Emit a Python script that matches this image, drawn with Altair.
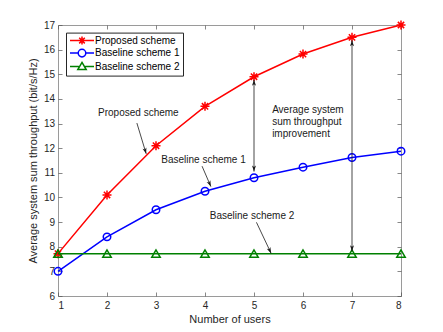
import altair as alt
import pandas as pd
import numpy as np

# ---- data ----
users = [1, 2, 3, 4, 5, 6, 7, 8]
proposed = [7.72, 10.1, 12.1, 13.7, 14.9, 15.82, 16.5, 17.0]
baseline1 = [7.0, 8.4, 9.5, 10.25, 10.8, 11.23, 11.62, 11.88]
baseline2 = [7.72, 7.72, 7.72, 7.72, 7.72, 7.72, 7.72, 7.72]
series_names = ["Proposed scheme", "Baseline scheme 1", "Baseline scheme 2"]
series_colors = ["#ff0000", "#0000ff", "#008000"]
x_ticks = [1, 2, 3, 4, 5, 6, 7, 8]
y_ticks = [6, 7, 8, 9, 10, 11, 12, 13, 14, 15, 16, 17]

# annotations
label_text = ["Proposed scheme", "Baseline scheme 1", "Baseline scheme 2"]
label_x = [2.64, 3.97, 4.96]
label_y = [13.42, 11.54, 9.24]
arrow_x = [2.61, 3.94, 5.05, 5.0, 7.0]
arrow_y = [13.02, 11.27, 8.99, 14.78, 16.38]
arrow_x2 = [2.80, 4.12, 5.35, 5.0, 7.0]
arrow_y2 = [11.77, 10.44, 7.73, 11.05, 7.82]
arrow_double = [False, False, False, True, True]
note_lines = ["Average system", "sum throughput", "improvement"]
note_x = [5.37, 5.37, 5.37]
note_y = [13.57, 13.06, 12.56]

W, H = 343, 271
XMIN, XMAX, YMIN, YMAX = 1, 8, 6, 17
FONT = "Liberation Sans"

ASTERISK = "M-1,0L1,0M0,-1L0,1M-0.7,-0.7L0.7,0.7M-0.7,0.7L0.7,-0.7"
ARROWHEAD = "M0,0L-0.4,1.2L0,0.9L0.4,1.2Z"
LEG_PATHS = [
    "M-3,0L3,0M-1,0L1,0M0,-1L0,1M-0.7,-0.7L0.7,0.7M-0.7,0.7L0.7,-0.7",
    "M-3,0L-0.95,0M0.95,0L3,0M-0.95,0A0.95,0.95 0 1,1 0.95,0A0.95,0.95 0 1,1 -0.95,0",
    "M-3,0L-0.8,0M0.8,0L3,0M0,-1.05L1.05,0.75L-1.05,0.75Z",
]

xs = alt.Scale(domain=[XMIN, XMAX], nice=False)
ys = alt.Scale(domain=[YMIN, YMAX], nice=False)

x_axis = alt.Axis(values=x_ticks, title="Number of users", offset=-4, tickSize=4,
                  labelPadding=4, titlePadding=3, format="d")
y_axis = alt.Axis(values=y_ticks, title="Average system sum throughput (bit/s/Hz)",
                  offset=-4, tickSize=4, labelPadding=3.5, titlePadding=5, format="d")

df = pd.DataFrame({
    "users": users * 3,
    "value": proposed + baseline1 + baseline2,
    "series": sum([[s] * len(users) for s in series_names], []),
})

layers = []
marker_shapes = [ASTERISK, "circle", "triangle-up"]
marker_sizes = [81, 56, 72]
for i, name in enumerate(series_names):
    sub = df[df["series"] == name]
    base = alt.Chart(sub)
    line = base.mark_line(color=series_colors[i], strokeWidth=1.5).encode(
        x=alt.X("users:Q", scale=xs, axis=x_axis),
        y=alt.Y("value:Q", scale=ys, axis=y_axis),
    )
    pts = base.mark_point(color=series_colors[i], filled=False, strokeWidth=1.5,
                          opacity=1, shape=marker_shapes[i], size=marker_sizes[i]).encode(
        x=alt.X("users:Q", scale=xs, axis=x_axis),
        y=alt.Y("value:Q", scale=ys, axis=y_axis),
    )
    layers += [line, pts]

# legend layer (no visible data, only provides legend entries)
leg_df = pd.DataFrame({"series": series_names})
legend = alt.Legend(title=None, orient="none", legendX=8, legendY=7.6,
                    padding=3, strokeColor="#262626", fillColor="white",
                    labelFont=FONT, labelFontSize=10, labelColor="#000000",
                    symbolSize=64, symbolStrokeWidth=1.5, labelOffset=8,
                    rowPadding=-1.5, symbolOffset=8)
leg_layer = alt.Chart(leg_df).transform_filter("false").mark_point(
    filled=False, opacity=1, strokeWidth=1.5).encode(
    shape=alt.Shape("series:N", scale=alt.Scale(domain=series_names, range=LEG_PATHS), legend=legend),
    color=alt.Color("series:N", scale=alt.Scale(domain=series_names, range=series_colors), legend=legend),
)
layers.append(leg_layer)

# arrows
arr_df = pd.DataFrame({"x": arrow_x, "y": arrow_y, "x2": arrow_x2, "y2": arrow_y2})
rules = alt.Chart(arr_df).mark_rule(color="#1a1a1a", strokeWidth=0.8).encode(
    x=alt.X("x:Q", scale=xs, axis=x_axis), y=alt.Y("y:Q", scale=ys, axis=y_axis),
    x2="x2:Q", y2="y2:Q")
layers.append(rules)

px_per_x = W / (XMAX - XMIN)
px_per_y = H / (YMAX - YMIN)
hx, hy, ha = [], [], []
for x0, y0, x1, y1, dbl in zip(arrow_x, arrow_y, arrow_x2, arrow_y2, arrow_double):
    dx = (x1 - x0) * px_per_x
    dy = -(y1 - y0) * px_per_y
    ang = np.degrees(np.arctan2(dx, -dy)) % 360
    hx.append(x1); hy.append(y1); ha.append(float(ang))
    if dbl:
        hx.append(x0); hy.append(y0); ha.append(float((ang + 180) % 360))
head_df = pd.DataFrame({"x": hx, "y": hy, "angle": ha})
heads = alt.Chart(head_df).mark_point(shape=ARROWHEAD, filled=True, color="#1a1a1a",
                                      size=100, opacity=1, strokeWidth=0.5).encode(
    x=alt.X("x:Q", scale=xs, axis=x_axis), y=alt.Y("y:Q", scale=ys, axis=y_axis),
    angle=alt.Angle("angle:Q", scale=None))
layers.append(heads)

lab_df = pd.DataFrame({"x": label_x, "y": label_y, "t": label_text})
labs = alt.Chart(lab_df).mark_text(font=FONT, fontSize=10, color="#1a1a1a",
                                   align="center", baseline="middle").encode(
    x=alt.X("x:Q", scale=xs, axis=x_axis), y=alt.Y("y:Q", scale=ys, axis=y_axis), text="t:N")
layers.append(labs)

note_df = pd.DataFrame({"x": note_x, "y": note_y, "t": note_lines})
notes = alt.Chart(note_df).mark_text(font=FONT, fontSize=10, color="#1a1a1a",
                                     align="left", baseline="middle").encode(
    x=alt.X("x:Q", scale=xs, axis=x_axis), y=alt.Y("y:Q", scale=ys, axis=y_axis), text="t:N")
layers.append(notes)

main = alt.layer(*layers)

# top / right tick-only axes
frame_axes = alt.Chart(pd.DataFrame({"users": users, "value": baseline2})).mark_point(opacity=0).encode(
    x=alt.X("users:Q", scale=alt.Scale(domain=[XMIN, XMAX], nice=False),
            axis=alt.Axis(orient="top", values=x_ticks, labels=False, title=None,
                          offset=-4, tickSize=4)),
    y=alt.Y("value:Q", scale=alt.Scale(domain=[YMIN, YMAX], nice=False),
            axis=alt.Axis(orient="right", values=y_ticks, labels=False, title=None,
                          offset=-4, tickSize=4)),
)

chart = alt.layer(main, frame_axes).resolve_scale(x="independent", y="independent").properties(
    width=W, height=H, autosize=alt.AutoSizeParams(type="none"),
    padding={"left": 50, "top": 17, "right": 30, "bottom": 30},
).configure_view(stroke="#9a9a9a", strokeWidth=1).configure_axis(
    domain=False, grid=False, labelFont=FONT, titleFont=FONT, labelFontSize=10,
    titleFontSize=11, labelColor="#262626", titleColor="#262626", titleFontWeight="normal",
    tickColor="#555555", tickWidth=0.7,
)

chart.save("out.html", embed_options={"renderer": "svg", "actions": False})
